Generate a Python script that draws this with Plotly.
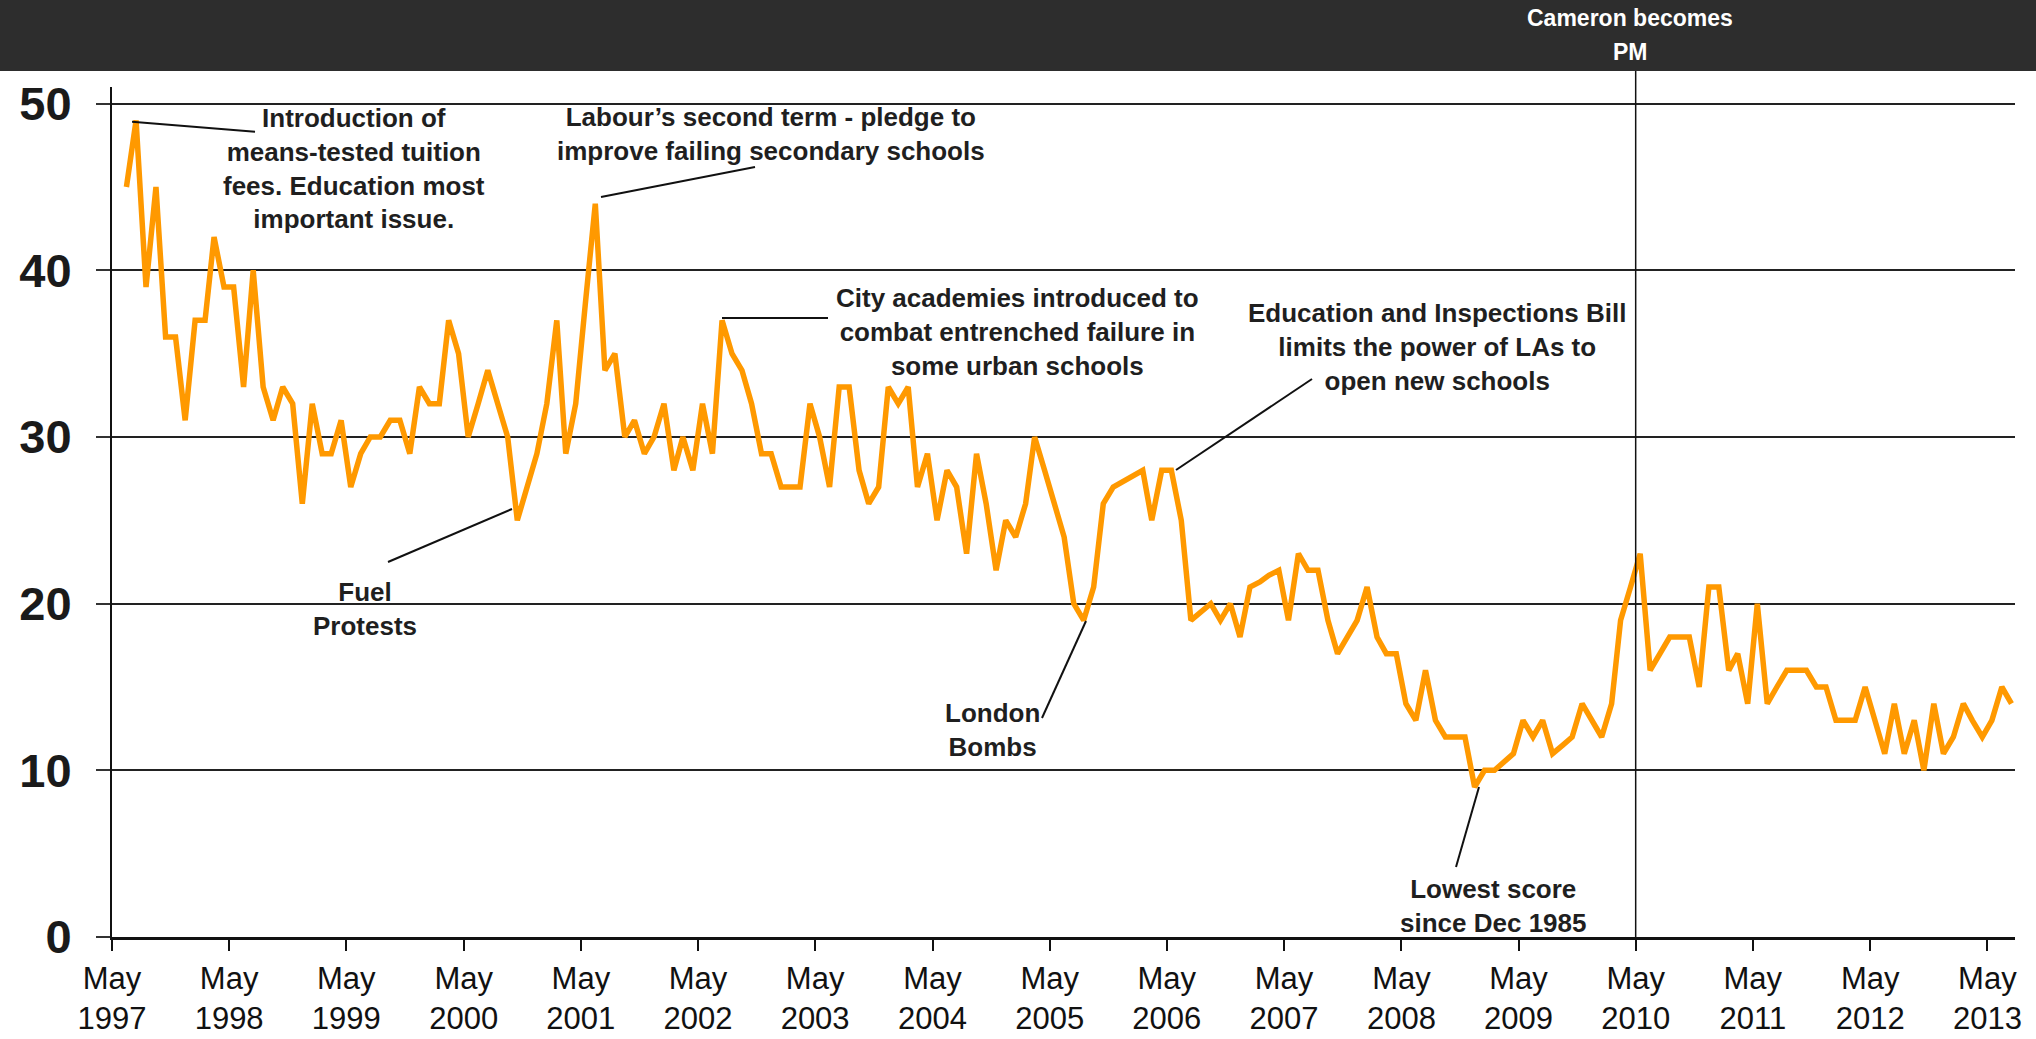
import plotly.graph_objects as go

# Monthly values (Jun 1997 - Jul 2013)
v1997 = [45, 49, 39, 45, 36, 36, 31]                      # Jun-Dec
v1998 = [37, 37, 42, 39, 39, 33, 40, 33, 31, 33, 32, 26]
v1999 = [32, 29, 29, 31, 27, 29, 30, 30, 31, 31, 29, 33]
v2000 = [32, 32, 37, 35, 30, 32, 34, 32, 30, 25, 27, 29]
v2001 = [32, 37, 29, 32, 38, 44, 34, 35, 30, 31, 29, 30]
v2002 = [32, 28, 30, 28, 32, 29, 37, 35, 34, 32, 29, 29]
v2003 = [27, 27, 27, 32, 30, 27, 33, 33, 28, 26, 27, 33]
v2004 = [32, 33, 27, 29, 25, 28, 27, 23, 29, 26, 22, 25]
v2005 = [24, 26, 30, 28, 26, 24, 20, 19, 21, 26, 27, 27.3]
v2006 = [27.7, 28, 25, 28, 28, 25, 19, 19.5, 20, 19, 20, 18]
v2007 = [21, 21.3, 21.7, 22, 19, 23, 22, 22, 19, 17, 18, 19]
v2008 = [21, 18, 17, 17, 14, 13, 16, 13, 12, 12, 12, 9]
v2009 = [10, 10, 10.5, 11, 13, 12, 13, 11, 11.5, 12, 14, 13]
v2010 = [12, 14, 19, 21, 23, 16, 17, 18, 18, 18, 15, 21]
v2011 = [21, 16, 17, 14, 20, 14, 15, 16, 16, 16, 15, 15]
v2012 = [13, 13, 13, 15, 13, 11, 14, 11, 13, 10, 14, 11]
v2013 = [12, 14, 13, 12, 13, 15, 14]                      # Jan-Jul

years = list(range(1997, 2014))
yearly = [v1997, v1998, v1999, v2000, v2001, v2002, v2003, v2004, v2005,
          v2006, v2007, v2008, v2009, v2010, v2011, v2012, v2013]

dates, values = [], []
for yr, vals in zip(years, yearly):
    start = 6 if yr == 1997 else 1
    for i, v in enumerate(vals):
        dates.append(f"{yr}-{start + i:02d}-15")
        values.append(v)

tick_dates = [f"{y}-05-01" for y in years]
tick_text = [f"May<br>{y}" for y in years]
y_ticks = [0, 10, 20, 30, 40, 50]

W, H = 2036, 1039
L, R, T, B = 112, 21, 87, 102
PW, PH = W - L - R, H - T - B


def P(xp, yp):
    return (xp - L) / PW, (H - B - yp) / PH


fig = go.Figure()
fig.add_trace(go.Scatter(x=dates, y=values, mode="lines",
                         line=dict(color="#FF9900", width=5.5),
                         hoverinfo="x+y"))

shapes = []
# dark header band
x0, y0 = P(-5, 71)
x1, y1 = P(W + 5, -5)
shapes.append(dict(type="rect", xref="paper", yref="paper", x0=x0, x1=x1, y0=y0, y1=y1,
                   fillcolor="#2d2d2d", line=dict(width=0), layer="above"))
# Cameron vertical line
shapes.append(dict(type="line", xref="x", yref="paper", x0="2010-05-01", x1="2010-05-01",
                   y0=0, y1=P(0, 71)[1], line=dict(color="#111111", width=1.5)))

connectors = [
    ((132, 121.7), (255, 131.7)),
    ((601, 197), (755, 167)),
    ((722, 318), (828, 318)),
    ((1176, 470), (1312, 379)),
    ((388, 562), (512, 509)),
    ((1042, 718), (1086, 621)),
    ((1456, 867), (1479, 787)),
]
for (a, b) in connectors:
    ax0, ay0 = P(*a)
    ax1, ay1 = P(*b)
    shapes.append(dict(type="line", xref="paper", yref="paper", x0=ax0, y0=ay0, x1=ax1, y1=ay1,
                       line=dict(color="#111111", width=2)))

notes = [
    ("Introduction of<br>means-tested tuition<br>fees. Education most<br>important issue.", 354, 168),
    ("Labour\u2019s second term - pledge to<br>improve failing secondary schools", 771, 134),
    ("City academies introduced to<br>combat entrenched failure in<br>some urban schools", 1017, 332),
    ("Education and Inspections Bill<br>limits the power of LAs to<br>open new schools", 1437, 347),
    ("Fuel<br>Protests", 365, 609),
    ("London<br>Bombs", 992, 730),
    ("Lowest score<br>since Dec 1985", 1493, 906),
]
annotations = []
for txt, xp, yp in notes:
    ax, ay = P(xp, yp)
    annotations.append(dict(text=f"<b>{txt}</b>", xref="paper", yref="paper", x=ax, y=ay,
                            xanchor="center", yanchor="middle", showarrow=False,
                            font=dict(family="Arial, Liberation Sans", size=26, color="#1f1f1f")))
for txt, yp in [("Cameron becomes", 18), ("PM", 52)]:
    ax, ay = P(1630, yp)
    annotations.append(dict(text=f"<b>{txt}</b>", xref="paper", yref="paper", x=ax, y=ay,
                            xanchor="center", yanchor="middle", showarrow=False,
                            font=dict(family="Arial, Liberation Sans", size=23, color="white")))

fig.update_layout(
    width=W, height=H,
    margin=dict(l=L, r=R, t=T, b=B, pad=0, autoexpand=False),
    paper_bgcolor="white", plot_bgcolor="white",
    showlegend=False,
    shapes=shapes, annotations=annotations,
    xaxis=dict(type="date", range=["1997-05-01", "2013-07-26"], automargin=False,
               tickmode="array", tickvals=tick_dates, ticktext=tick_text,
               showgrid=False, zeroline=False,
               showline=True, linecolor="#111111", linewidth=2.5,
               ticks="outside", ticklen=11, tickwidth=1.5, tickcolor="#111111",
               ticklabelstandoff=1,
               tickfont=dict(family="Arial, Liberation Sans", size=31, color="#111111")),
    yaxis=dict(range=[0, 51], tickmode="array", tickvals=y_ticks, automargin=False,
               showgrid=True, gridcolor="#222222", gridwidth=2,
               zeroline=False, showline=True, linecolor="#111111", linewidth=2,
               ticks="outside", ticklen=14, tickwidth=2, tickcolor="#333333",
               ticklabelstandoff=15,
               tickfont=dict(family="Arial, Liberation Sans", size=47, color="#1a1a1a",
                             weight="bold")),
)

fig.write_html("out.html", config={"displayModeBar": False},
               post_script="document.body.style.margin='0px';document.body.style.overflow='hidden';")
